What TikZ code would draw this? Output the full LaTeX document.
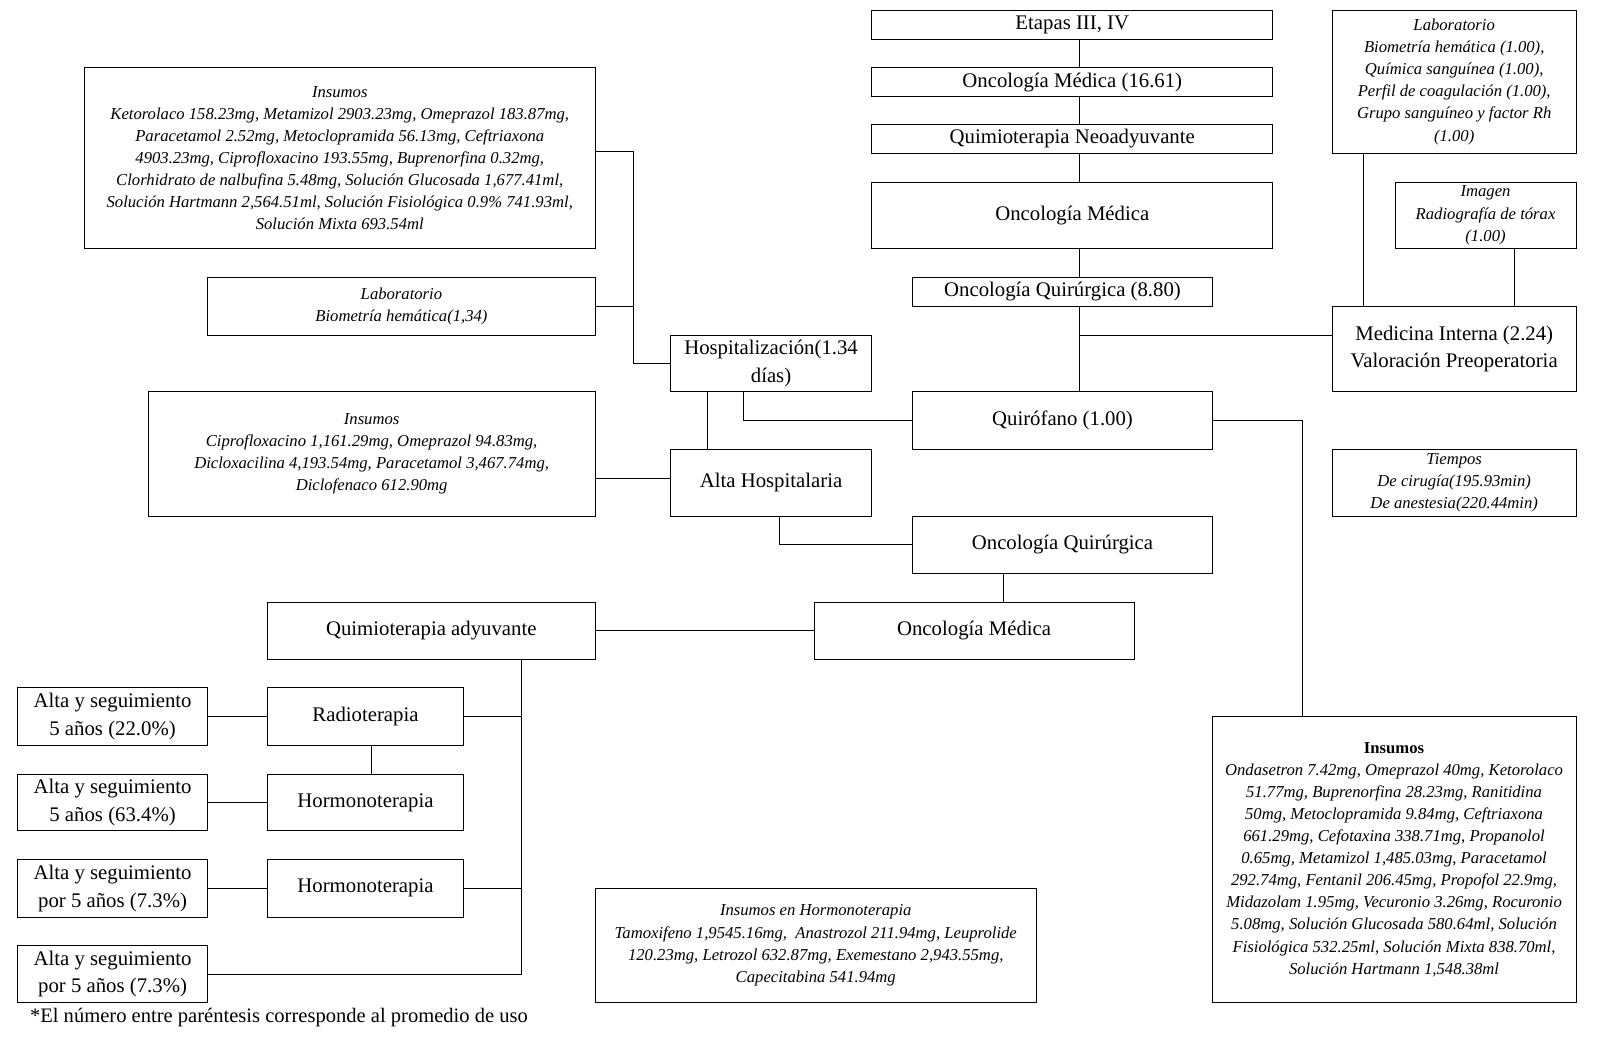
\documentclass[tikz,border=0pt]{standalone}
\usepackage{fontspec}
\setmainfont{Liberation Serif}
\begin{document}
\begin{tikzpicture}[x=1pt,y=-1pt,
  box/.style={draw, line width=0.9pt, inner sep=0pt, outer sep=0pt, align=center,
    font=\fontsize{20.2}{27}\selectfont},
  ibox/.style={draw, line width=0.9pt, inner sep=0pt, outer sep=0pt, align=center,
    font=\fontsize{16.2}{21.5}\selectfont\itshape},
  conn/.style={line width=0.9pt}]
\useasboundingbox (0,0) rectangle (1568,1013);
% right column top
\node[box, minimum width=390pt, minimum height=28pt] (etapas) at (1043,24) {Etapas III, IV};
\node[box, minimum width=390pt, minimum height=28pt] (om1) at (1043,80) {Oncología Médica (16.61)};
\node[box, minimum width=390pt, minimum height=28pt] (qneo) at (1043,135) {Quimioterapia Neoadyuvante};
\node[box, minimum width=390pt, minimum height=65pt] (om2) at (1043,209.5) {Oncología Médica};
\node[box, minimum width=291pt, minimum height=28pt] (oq1) at (1033.5,284) {Oncología Quirúrgica (8.80)};
\node[box, minimum width=291pt, minimum height=56pt] (quir) at (1033.5,409) {Quirófano (1.00)};
\node[box, minimum width=237pt, minimum height=83pt] (medint) at (1414.5,339.5) {Medicina Interna (2.24)\\Valoración Preoperatoria};
\node[ibox, minimum width=237pt, minimum height=139pt] (labr) at (1414.5,79.5) {Laboratorio\\Biometría hemática (1.00),\\Química sanguínea (1.00),\\Perfil de coagulación (1.00),\\Grupo sanguíneo y factor Rh\\(1.00)};
\node[ibox, minimum width=176pt, minimum height=65pt] (imagen) at (1445,209.5) {Imagen\\Radiografía de tórax\\(1.00)};
\node[ibox, minimum width=237pt, minimum height=65pt] (tiempos) at (1414.5,469.5) {Tiempos\\De cirugía(195.93min)\\De anestesia(220.44min)};
\node[ibox, minimum width=354pt, minimum height=278pt] (insr) at (1356,836) {\textup{\bfseries Insumos}\\Ondasetron 7.42mg, Omeprazol 40mg, Ketorolaco\\51.77mg, Buprenorfina 28.23mg, Ranitidina\\50mg, Metoclopramida 9.84mg, Ceftriaxona\\661.29mg, Cefotaxina 338.71mg, Propanolol\\0.65mg, Metamizol 1,485.03mg, Paracetamol\\292.74mg, Fentanil 206.45mg, Propofol 22.9mg,\\Midazolam 1.95mg, Vecuronio 3.26mg, Rocuronio\\5.08mg, Solución Glucosada 580.64ml, Solución\\Fisiológica 532.25ml, Solución Mixta 838.70ml,\\Solución Hartmann 1,548.38ml};
% middle
\node[box, minimum width=196pt, minimum height=55pt] (hosp) at (750,353.5) {Hospitalización(1.34\\días)};
\node[box, minimum width=196pt, minimum height=65pt] (altah) at (750,469.5) {Alta Hospitalaria};
\node[box, minimum width=291pt, minimum height=56pt] (oq2) at (1033.5,530) {Oncología Quirúrgica};
\node[box, minimum width=311pt, minimum height=55pt] (om3) at (947.5,613.5) {Oncología Médica};
\node[box, minimum width=319pt, minimum height=55pt] (qadj) at (419.5,613.5) {Quimioterapia adyuvante};
% left insumos
\node[ibox, minimum width=497pt, minimum height=176pt] (insl1) at (330.5,154) {Insumos\\Ketorolaco 158.23mg, Metamizol 2903.23mg, Omeprazol 183.87mg,\\Paracetamol 2.52mg, Metoclopramida 56.13mg, Ceftriaxona\\4903.23mg, Ciprofloxacino 193.55mg, Buprenorfina 0.32mg,\\Clorhidrato de nalbufina 5.48mg, Solución Glucosada 1,677.41ml,\\Solución Hartmann 2,564.51ml, Solución Fisiológica 0.9\% 741.93ml,\\Solución Mixta 693.54ml};
\node[ibox, minimum width=377pt, minimum height=56pt] (labl) at (390.5,298) {Laboratorio\\Biometría hemática(1,34)};
\node[ibox, minimum width=435pt, minimum height=121pt] (insl2) at (361.5,441.5) {Insumos\\Ciprofloxacino 1,161.29mg, Omeprazol 94.83mg,\\Dicloxacilina 4,193.54mg, Paracetamol 3,467.74mg,\\Diclofenaco 612.90mg};
% bottom left
\node[box, minimum width=191pt, minimum height=56pt] (radio) at (355.5,697) {Radioterapia};
\node[box, minimum width=191pt, minimum height=55pt] (horm1) at (355.5,780.5) {Hormonoterapia};
\node[box, minimum width=191pt, minimum height=56pt] (horm2) at (355.5,864) {Hormonoterapia};
\node[box, minimum width=185pt, minimum height=56pt] (alta1) at (109.5,697) {Alta y seguimiento\\5 años (22.0\%)};
\node[box, minimum width=185pt, minimum height=55pt] (alta2) at (109.5,780.5) {Alta y seguimiento\\5 años (63.4\%)};
\node[box, minimum width=185pt, minimum height=56pt] (alta3) at (109.5,864) {Alta y seguimiento\\por 5 años (7.3\%)};
\node[box, minimum width=185pt, minimum height=55pt] (alta4) at (109.5,947.5) {Alta y seguimiento\\por 5 años (7.3\%)};
\node[ibox, minimum width=429pt, minimum height=111pt] (insh) at (793.5,919.5) {Insumos en Hormonoterapia\\Tamoxifeno 1,9545.16mg,\ \ Anastrozol 211.94mg, Leuprolide\\120.23mg, Letrozol 632.87mg, Exemestano 2,943.55mg,\\Capecitabina 541.94mg};
\node[anchor=west, inner sep=0pt, font=\fontsize{20}{24}\selectfont] (foot) at (29,990) {*El número entre paréntesis corresponde al promedio de uso};
% junction coordinates
\coordinate (spine) at (1050,0);
\coordinate (jmi) at (1050,326);
\coordinate (labx) at (1326,0);
\coordinate (imx) at (1473,0);
\coordinate (insx) at (1267,0);
\coordinate (hqx) at (723,0);
\coordinate (j1) at (616,147);
\coordinate (ax) at (688,0);
\coordinate (jy) at (0,465);
\coordinate (ahx) at (758,0);
\coordinate (oqx) at (976,0);
\coordinate (qx) at (507,0);
\coordinate (rx) at (361,0);
% connectors
\draw[conn] (etapas.south -| spine) -- (om1.north -| spine);
\draw[conn] (om1.south -| spine) -- (qneo.north -| spine);
\draw[conn] (qneo.south -| spine) -- (om2.north -| spine);
\draw[conn] (om2.south -| spine) -- (oq1.north -| spine);
\draw[conn] (oq1.south -| spine) -- (quir.north -| spine);
\draw[conn] (jmi) -- (jmi -| medint.west);
\draw[conn] (labr.south -| labx) -- (medint.north -| labx);
\draw[conn] (imagen.south -| imx) -- (medint.north -| imx);
\draw[conn] (quir.east) -| (insr.north -| insx);
\draw[conn] (quir.west) -| (hosp.south -| hqx);
\draw[conn] (hosp.west) -| (j1) -- (j1 -| insl1.east);
\draw[conn] (labl.east) -- (labl.east -| j1);
\draw[conn] (hosp.south -| ax) -- (altah.north -| ax);
\draw[conn] (insl2.east |- jy) -- (altah.west |- jy);
\draw[conn] (altah.south -| ahx) |- (oq2.west);
\draw[conn] (oq2.south -| oqx) -- (om3.north -| oqx);
\draw[conn] (om3.west) -- (qadj.east);
\draw[conn] (qadj.south -| qx) |- (alta4.east);
\draw[conn] (radio.east) -- (radio.east -| qx);
\draw[conn] (horm2.east) -- (horm2.east -| qx);
\draw[conn] (radio.south -| rx) -- (horm1.north -| rx);
\draw[conn] (alta1.east) -- (radio.west);
\draw[conn] (alta2.east) -- (horm1.west);
\draw[conn] (alta3.east) -- (horm2.west);
\end{tikzpicture}
\end{document}
